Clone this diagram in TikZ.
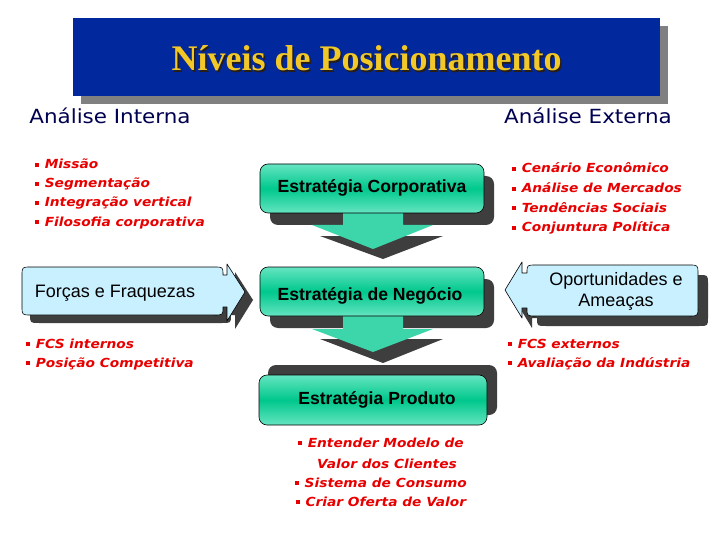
\documentclass[tikz,border=0pt]{standalone}
\usepackage{fontspec}
\setmainfont{Liberation Sans}
\newfontfamily\titlefont{Liberation Serif}
\newfontfamily\comic[FakeStretch=1.1]{DejaVu Sans}
\definecolor{titleblue}{RGB}{2,40,158}
\definecolor{titleyellow}{RGB}{242,200,40}
\definecolor{titleshade}{RGB}{40,30,20}
\definecolor{navy}{RGB}{0,0,80}
\definecolor{bred}{RGB}{232,0,0}
\definecolor{callblue}{RGB}{200,240,255}
\definecolor{shadowgray}{RGB}{62,62,62}
\definecolor{titleshadow}{RGB}{128,128,128}
\definecolor{greenlight}{RGB}{100,228,192}
\definecolor{greenmid}{RGB}{0,200,140}
\definecolor{greenarrow}{RGB}{60,214,170}
\newcommand{\bul}{\textcolor{bred}{\rule[0.3ex]{3.6pt}{3.6pt}}\hspace{6pt}}
\tikzset{
  bl/.style={anchor=base west, inner sep=0pt, text=bred, font=\comic\bfseries\itshape\fontsize{12.5}{14}\selectfont},
  bc/.style={bl, anchor=base},
  head/.style={anchor=base, inner sep=0pt, text=navy, font=\comic\fontsize{19.5}{22}\selectfont},
  greenbox/.style={draw=black, line width=0.6pt, rounded corners=8pt, top color=greenlight, bottom color=greenlight, middle color=greenmid},
  boxtext/.style={inner sep=0pt, font=\bfseries\fontsize{17.6}{20}\selectfont},
  calltext/.style={inner sep=0pt, align=center, font=\fontsize{18}{21}\selectfont},
  callout/.style={fill=callblue, draw=black, line width=0.6pt, line join=round},
}
\begin{document}
\begin{tikzpicture}[x=1pt,y=-1pt]
\useasboundingbox[fill=white] (0,0) rectangle (720,540);
% title
\fill[titleshadow] (81,26) rectangle (668,104);
\fill[titleblue] (73,18) rectangle (660,96);
\node[text=titleshade, font=\titlefont\bfseries\fontsize{36}{40}\selectfont] at (368,60) {Níveis de Posicionamento};
\node[text=titleyellow, font=\titlefont\bfseries\fontsize{36}{40}\selectfont] (title) at (366.5,58.5) {Níveis de Posicionamento};
% headings
\node[head] (ai) at (110,124) {Análise Interna};
\node[head] (ae) at (588,124) {Análise Externa};
% left upper bullets
\node[bl] (l1) at (35,169) {\bul Missão};
\node[bl] (l2) at (35,188) {\bul Segmentação};
\node[bl] (l3) at (35,207) {\bul Integração vertical};
\node[bl] (l4) at (35,226) {\bul Filosofia corporativa};
% right upper bullets
\node[bl] (r1) at (512,173) {\bul Cenário Econômico};
\node[bl] (r2) at (512,193) {\bul Análise de Mercados};
\node[bl] (r3) at (512,212) {\bul Tendências Sociais};
\node[bl] (r4) at (512,232) {\bul Conjuntura Política};
% left lower bullets
\node[bl] (l5) at (26,348) {\bul FCS internos};
\node[bl] (l6) at (26,367) {\bul Posição Competitiva};
% right lower bullets
\node[bl] (r5) at (508,348) {\bul FCS externos};
\node[bl] (r6) at (508,367) {\bul Avaliação da Indústria};
% bottom bullets
\node[bc] (b1) at (381,447) {\bul Entender Modelo de};
\node[bc] (b2) at (387,468) {Valor dos Clientes};
\node[bc] (b3) at (381,487) {\bul Sistema de Consumo};
\node[bc] (b4) at (381,506) {\bul Criar Oferta de Valor};
% shadows of green boxes and arrows
\fill[shadowgray, rounded corners=8pt] (270,176) rectangle (494,225);
\fill[shadowgray] (320,236) -- (443,236) -- (383,259) -- cycle;
\fill[shadowgray, rounded corners=8pt] (270,279) rectangle (494,328);
\fill[shadowgray] (320,339) -- (443,339) -- (383,363) -- cycle;
\fill[shadowgray, rounded corners=8pt] (268,365) rectangle (497,415);
% arrows
\fill[greenarrow] (343,210) -- (403,210) -- (403,225) -- (433,225) -- (373,249) -- (312,225) -- (343,225) -- cycle;
\fill[greenarrow] (343,313) -- (403,313) -- (403,329) -- (433,329) -- (373,352) -- (312,329) -- (343,329) -- cycle;
% green boxes
\path[greenbox] (260,164) rectangle (484,213);
\node[boxtext] (ec) at (372,188) {Estratégia Corporativa};
\path[greenbox] (260,267) rectangle (484,316);
\node[boxtext] (en) at (370,296) {Estratégia de Negócio};
\path[greenbox] (259,375) rectangle (487,425);
\node[boxtext] (ep) at (377,400) {Estratégia Produto};
% Forças callout
\begin{scope}[shift={(8,8)}]
\fill[shadowgray] (31,267) -- (214,267) .. controls (223,267) .. (223,275) -- (227,275) -- (227,264) -- (245,292) -- (227,321) -- (227,307) -- (223,307) .. controls (223,315) .. (214,315) -- (31,315) .. controls (22,315) .. (22,306) -- (22,276) .. controls (22,267) .. (31,267) -- cycle;
\end{scope}
\path[callout] (31,267) -- (214,267) .. controls (223,267) .. (223,275) -- (227,275) -- (227,264) -- (245,292) -- (227,321) -- (227,307) -- (223,307) .. controls (223,315) .. (214,315) -- (31,315) .. controls (22,315) .. (22,306) -- (22,276) .. controls (22,267) .. (31,267) -- cycle;
\node[calltext] (ff) at (115,293) {Forças e Fraquezas};
% Oportunidades callout
\begin{scope}[shift={(10,10)}]
\fill[shadowgray] (536,265) -- (689,265) .. controls (698,265) .. (698,274) -- (698,307) .. controls (698,316) .. (689,316) -- (536,316) .. controls (527,316) .. (527,308) -- (522,308) -- (522,318) -- (505,290) -- (522,262) -- (522,273) -- (527,273) .. controls (527,265) .. (536,265) -- cycle;
\end{scope}
\path[callout] (536,265) -- (689,265) .. controls (698,265) .. (698,274) -- (698,307) .. controls (698,316) .. (689,316) -- (536,316) .. controls (527,316) .. (527,308) -- (522,308) -- (522,318) -- (505,290) -- (522,262) -- (522,273) -- (527,273) .. controls (527,265) .. (536,265) -- cycle;
\node[calltext] (oa) at (616,291) {Oportunidades e\\Ameaças};
\end{tikzpicture}
\end{document}
